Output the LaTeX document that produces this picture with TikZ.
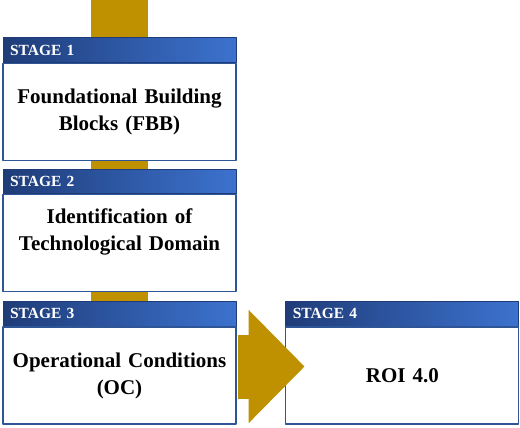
\documentclass[tikz,border=0pt]{standalone}
\usepackage{fontspec}
\setmainfont{Liberation Serif}
\usetikzlibrary{positioning,arrows.meta,backgrounds}
\definecolor{gold}{HTML}{BF9000}
\definecolor{hdark}{HTML}{1F3C78}
\definecolor{hlight}{HTML}{3C72CE}
\definecolor{edge}{HTML}{2E5596}
\begin{document}
\begin{tikzpicture}[x=1pt,y=1pt, font=\bfseries, line join=round,
  head/.style={draw=hdark, line width=.8pt, left color=hdark, right color=hlight, text=white,
    minimum width=233pt, minimum height=24pt, inner sep=7pt, font=\fontsize{15.5}{16}\selectfont\bfseries, text width=219pt, align=left},
  body/.style={draw=edge, line width=1.2pt, fill=white, minimum width=233pt, minimum height=97pt,
    text width=225pt, align=center, font=\fontsize{21}{27}\selectfont\bfseries},
  bar/.style={gold, line width=57pt}]
\useasboundingbox (0,0) rectangle (520,428);
\node[head] (h1) at (119.5,378) {STAGE 1};
\node[body, below=0pt of h1] (b1) {Foundational Building\\Blocks (FBB)};
\node[head, below=8pt of b1] (h2) {STAGE 2};
\node[body, below=0pt of h2] (b2) {Identification of\\Technological Domain\\\mbox{}};
\node[head, below=9pt of b2] (h3) {STAGE 3};
\node[body, below=0pt of h3] (b3) {Operational Conditions\\(OC)};
\node[head, right=49pt of h3] (h4) {STAGE 4};
\node[body, below=0pt of h4] (b4) {ROI 4.0};
\coordinate[above=38pt of h1] (top);
\begin{scope}[on background layer]
\draw[bar] (top) -- (h3.north);
\end{scope}
\coordinate (a) at ([xshift=1pt,yshift=9pt]b3.east);
\draw[gold, line width=64pt, -{Triangle[length=56pt,width=110pt]}] (a) -- ++(67,0);
\end{tikzpicture}
\end{document}
